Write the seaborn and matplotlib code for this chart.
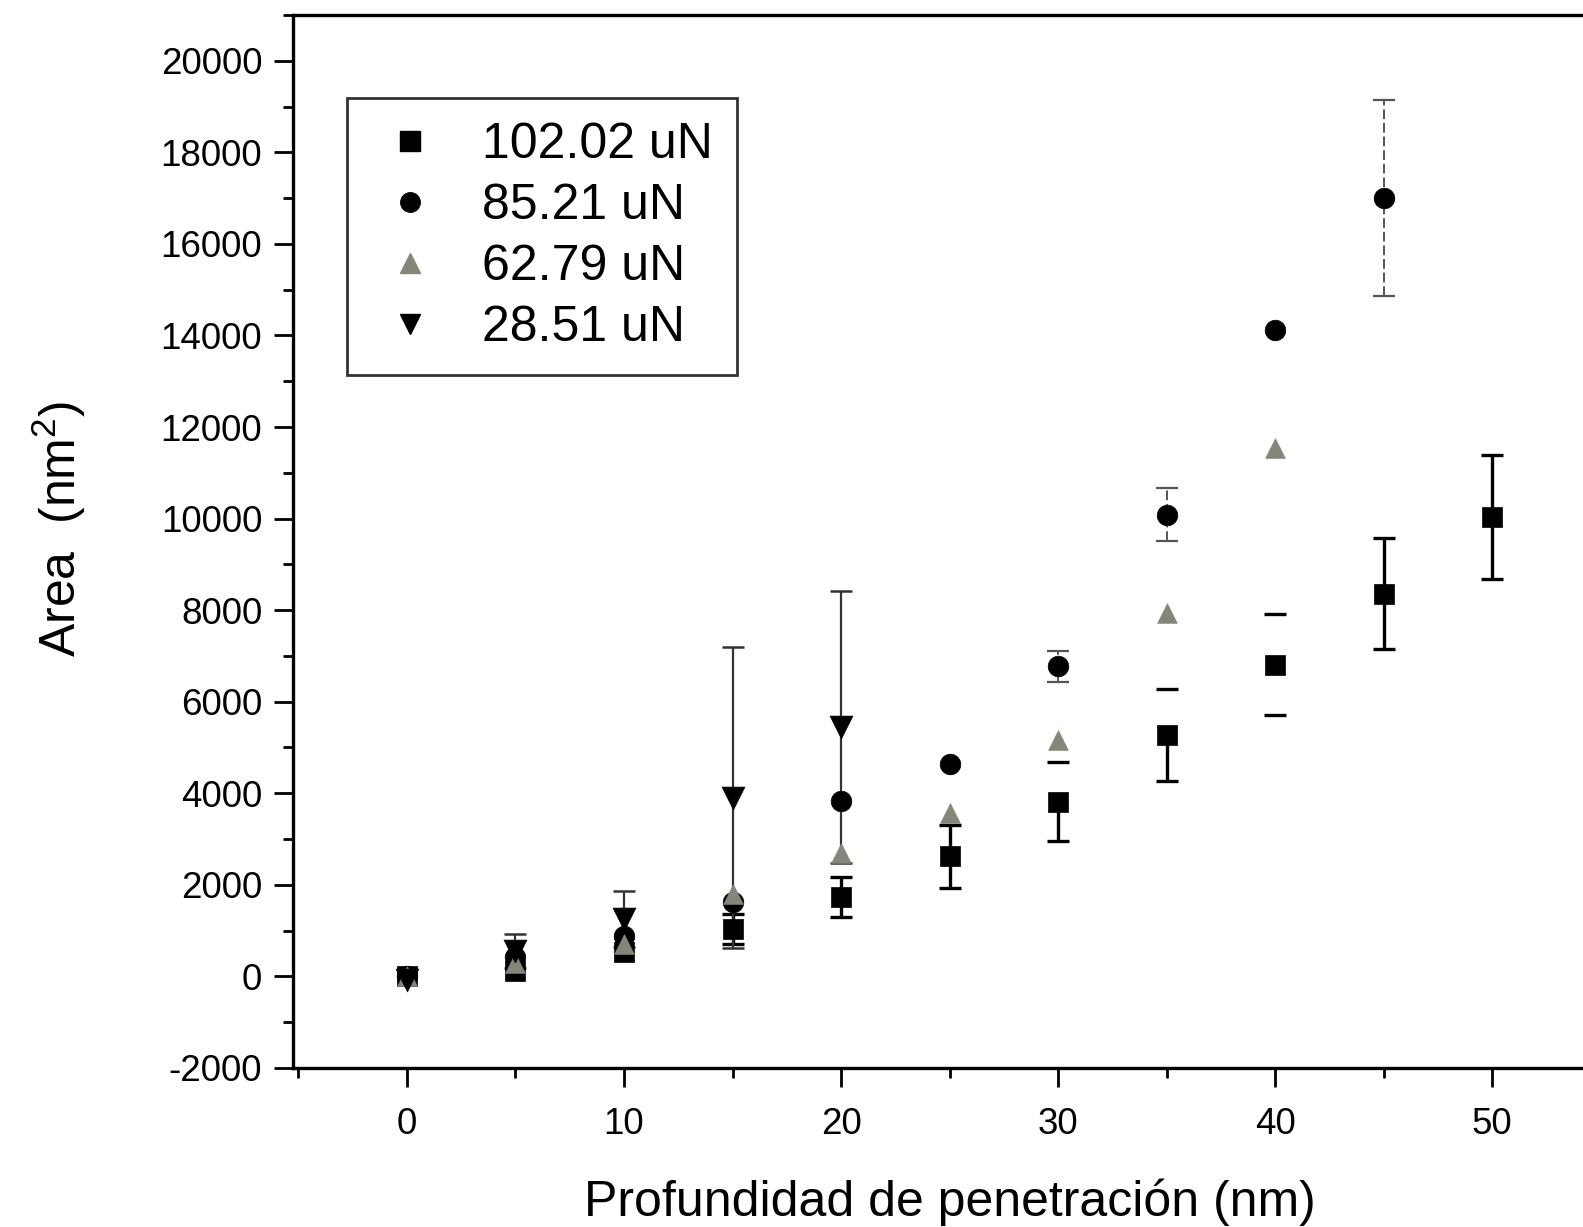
import numpy as np
import pandas as pd
import matplotlib
matplotlib.use("Agg")
import matplotlib.pyplot as plt
import seaborn as sns
from matplotlib.ticker import MultipleLocator
from matplotlib.lines import Line2D

# ---------------- data ----------------
labels = ["102.02 uN", "85.21 uN", "62.79 uN", "28.51 uN"]

x_102 = [0, 5, 10, 15, 20, 25, 30, 35, 40, 45, 50]
y_102 = [0, 110, 530, 1040, 1740, 2620, 3815, 5270, 6810, 8360, 10030]
e_102 = [0, 0, 0, 330, 440, 680, 860, 1000, 1110, 1210, 1350]

x_85 = [0, 5, 10, 15, 20, 25, 30, 35, 40, 45]
y_85 = [0, 420, 880, 1630, 3840, 4630, 6770, 10080, 14110, 17000]
e_85 = [0, 0, 0, 0, 0, 0, 330, 580, 0, 2140]

x_62 = [0, 5, 10, 15, 20, 25, 30, 35, 40]
y_62 = [0, 300, 700, 1800, 2690, 3570, 5160, 7940, 11550]
e_62 = [0, 0, 0, 0, 0, 0, 0, 0, 0]

x_28 = [0, 5, 10, 15, 20]
y_28 = [-80, 550, 1250, 3900, 5450]
e_28 = [0, 370, 610, 3290, 2970]

xticks = [0, 10, 20, 30, 40, 50]
yticks = list(range(-2000, 20001, 2000))

# ---------------- build frame ----------------
frames = []
for lab, xs, ys, es in zip(labels, [x_102, x_85, x_62, x_28],
                           [y_102, y_85, y_62, y_28], [e_102, e_85, e_62, e_28]):
    frames.append(pd.DataFrame({"x": xs, "y": ys, "err": es, "load": lab}))
df = pd.concat(frames, ignore_index=True)

sns.set_theme(style="ticks")
plt.rcParams["font.family"] = ["Liberation Sans", "DejaVu Sans"]
plt.rcParams["mathtext.fontset"] = "custom"
plt.rcParams["mathtext.rm"] = "Liberation Sans"
plt.rcParams["axes.unicode_minus"] = False

fig = plt.figure(figsize=(15.83, 12.27), dpi=100)
ax = fig.add_axes([0.185, 0.1297, 0.8946, 0.858])

palette = {labels[0]: "black", labels[1]: "black", labels[2]: "#85857a", labels[3]: "black"}
markers = {labels[0]: "s", labels[1]: "o", labels[2]: "^", labels[3]: "v"}
sizes_map = {labels[0]: 210, labels[1]: 220, labels[2]: 200, labels[3]: 270}

err_style = {
    labels[0]: dict(ecolor="black", elinewidth=2.4, capthick=2.4, linestyle="-"),
    labels[1]: dict(ecolor="#555555", elinewidth=1.4, capthick=1.6, linestyle=(0, (5, 2))),
    labels[2]: dict(ecolor="black", elinewidth=1.5, capthick=2.0, linestyle="-"),
    labels[3]: dict(ecolor="#333333", elinewidth=1.6, capthick=1.8, linestyle="-"),
}
for lab in labels:
    sub = df[(df["load"] == lab) & (df["err"] > 0)]
    if len(sub) == 0:
        continue
    st = dict(err_style[lab])
    ls = st.pop("linestyle")
    # caps
    ax.errorbar(sub["x"], sub["y"], yerr=sub["err"], fmt="none", capsize=8,
                zorder=1, ecolor=st["ecolor"], elinewidth=0, capthick=st["capthick"])
    # bars
    if lab == labels[0]:
        lower = sub["err"].to_numpy().astype(float)
        upper = lower.copy()
        xs = sub["x"].to_numpy()
        upper[np.isin(xs, [30, 35, 40])] = 0
        lower[np.isin(xs, [40])] = 0
        yerr = [lower, upper]
    else:
        yerr = sub["err"]
    _, _, bars = ax.errorbar(sub["x"], sub["y"], yerr=yerr, fmt="none", capsize=0,
                             zorder=1, ecolor=st["ecolor"], elinewidth=st["elinewidth"])
    for b in bars:
        b.set_linestyle(ls)

for lab in labels:
    sub = df[df["load"] == lab]
    sns.scatterplot(data=sub, x="x", y="y", color=palette[lab], marker=markers[lab],
                    s=sizes_map[lab], edgecolor=palette[lab], linewidth=0.5,
                    ax=ax, zorder=3, legend=False)

ax.set_xlim(-5.26, 60)
ax.set_ylim(-2000, 21000)
ax.set_xticks(xticks)
ax.set_yticks(yticks)
ax.xaxis.set_minor_locator(MultipleLocator(5))
ax.yaxis.set_minor_locator(MultipleLocator(1000))
ax.tick_params(axis="both", which="major", direction="out", length=14, width=2,
               labelsize=26.5, color="black", labelcolor="black")
ax.tick_params(axis="both", which="minor", direction="out", length=7, width=2, color="black")
ax.tick_params(axis="x", which="major", pad=14)
ax.tick_params(axis="y", which="major", pad=8)
ax.tick_params(top=False, right=False, which="both")
for sp in ax.spines.values():
    sp.set_linewidth(2.4)
    sp.set_color("black")
ax.grid(False)

ax.set_xlabel("Profundidad de penetración (nm)", fontsize=36, color="black")
ax.set_ylabel("Area  (nm$^2$)", fontsize=36, color="black")
ax.xaxis.set_label_coords(0.464, -0.105)
ax.yaxis.set_label_coords(-0.145, 0.512)

handles = [Line2D([], [], linestyle="none", marker=markers[l], color=palette[l],
                  markersize=14 if markers[l] in ("s", "o") else 15) for l in labels]
leg = ax.legend(handles, labels, loc="upper left", bbox_to_anchor=(0.2192, 0.9201),
                bbox_transform=fig.transFigure, frameon=True, fancybox=False,
                edgecolor="black", fontsize=36, handletextpad=0.66, labelspacing=0.30,
                borderpad=0.48, handlelength=1.56, borderaxespad=0)
leg.get_frame().set_linewidth(2)
for t in leg.get_texts():
    t.set_color("black")

fig.savefig("out.png", dpi=100, facecolor="white")
